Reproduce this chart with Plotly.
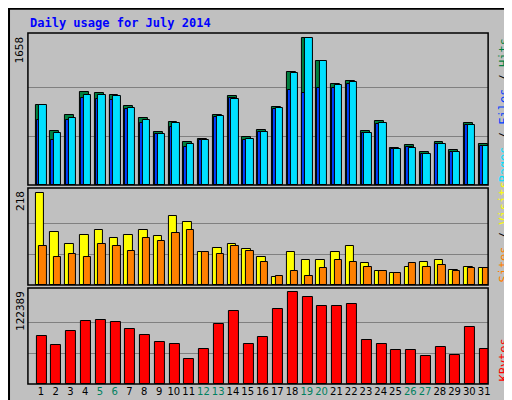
import plotly.graph_objects as go

days = list(range(1, 32))
hits = [902,607,788,1050,1038,1016,890,754,595,709,482,516,788,1004,538,618,879,1277,1658,1402,1140,1175,607,720,413,448,368,482,391,698,459]
files = [902,584,754,1016,1016,1004,868,732,573,698,459,504,777,970,516,595,868,1266,1658,1402,1129,1163,584,698,402,413,345,459,368,675,436]
pages = [732,504,732,985,973,959,860,698,573,655,425,504,766,985,504,595,856,1076,1038,1095,1095,1140,584,686,402,425,345,459,368,675,436]
visits = [218,126,98,117,131,112,117,131,115,162,150,77,88,98,86,65,20,77,58,58,79,91,51,32,29,43,55,60,36,43,41]
sites = [93,65,74,65,98,91,81,110,105,124,129,79,74,91,81,55,22,34,22,39,60,55,43,34,29,51,43,48,34,39,41]
kbytes = [64500,52400,71200,84700,86000,83300,73900,65900,56400,53800,33600,47000,80600,98100,53800,63200,99500,122389,115600,103500,103500,106200,59100,53800,45700,45700,37600,49700,39000,76600,47000]
weekends = [5,6,12,13,19,20,26,27]
max_hits, max_visits, max_kb = 1658, 218, 122389

fig = go.Figure()
line = dict(color="black", width=1)
def bar(y, color, off, w, ya):
    fig.add_trace(go.Bar(x=days, y=y, marker=dict(color=color, line=line), offset=off, width=w,
                         xaxis="x", yaxis=ya, showlegend=False, hoverinfo="skip"))
bar(hits, "#008040", -0.36, 0.6, "y")
bar(pages, "#0040FF", -0.3, 0.5, "y")
bar(files, "#00E0FF", -0.11, 0.5, "y")
bar(visits, "#FFFF00", -0.36, 0.58, "y2")
bar(sites, "#FF8000", -0.11, 0.5, "y2")
bar(kbytes, "#FF0000", -0.29, 0.68, "y3")

xd = [20/512, 482/512]
ticktext = [f"<span style='color:#00805F'>{d}</span>" if d in weekends else str(d) for d in days]
def yax(dom, top, mx):
    return dict(domain=dom, range=[0, top], tickvals=[mx/3, 2*mx/3], showticklabels=False,
                showgrid=True, gridcolor="#808080", gridwidth=1, zeroline=False, anchor="x", fixedrange=True,
                ticks="")
fig.update_layout(
    width=512, height=400, margin=dict(l=0, r=0, t=0, b=0),
    paper_bgcolor="#C0C0C0", plot_bgcolor="#C0C0C0", barmode="overlay", bargap=0,
    font=dict(family="DejaVu Sans Mono", size=11, color="black"),
    xaxis=dict(domain=xd, range=[0.123, 31.27], tickvals=days, ticktext=ticktext, ticks="", tickangle=0,
               showgrid=False, zeroline=False, anchor="y3", tickfont=dict(size=10, family="DejaVu Sans"),
               fixedrange=True),
    yaxis=yax([1-177/400, 1-25/400], max_hits*151.7/146.7, max_hits),
    yaxis2=yax([1-277/400, 1-180/400], max_visits*96.7/92, max_visits),
    yaxis3=yax([1-376/400, 1-280/400], max_kb*95.3/91, max_kb),
)
shapes = [
    dict(type="rect", xref="paper", yref="paper", x0=0.002, x1=0.998, y0=0.002, y1=0.998, line=dict(color="black", width=2)),
    dict(type="line", xref="paper", yref="paper", x0=508/512, x1=508/512, y0=4/400, y1=396/400, line=dict(color="#808080", width=3)),
    dict(type="line", xref="paper", yref="paper", x0=4/512, x1=508/512, y0=4/400, y1=4/400, line=dict(color="#808080", width=3)),
]
for y0, y1 in [(25, 177), (180, 277), (280, 376)]:
    shapes.append(dict(type="rect", xref="paper", yref="paper", x0=xd[0], x1=xd[1], y0=1-y1/400, y1=1-y0/400,
                       line=dict(color="black", width=1.5)))
fig.update_layout(shapes=shapes)

ann = [dict(text="<b>Daily usage for July 2014</b>", x=20/512, y=1-15/400, xref="paper", yref="paper",
            xanchor="left", yanchor="middle", showarrow=False, font=dict(color="#0000FF", size=12))]
for lab, ytop in [(str(max_hits), 26), (str(max_visits), 181), (str(max_kb), 281)]:
    ann.append(dict(text=lab, x=12/512, y=1-ytop/400, xref="paper", yref="paper", textangle=-90,
                    xanchor="center", yanchor="top", showarrow=False, font=dict(size=11)))
right = [
    ("<span style='color:#00E0FF'>Pages</span> / <span style='color:#0040FF'>Files</span> / <span style='color:#008040'>Hits</span>", 177),
    ("<span style='color:#FF8000'>Sites</span> / <span style='color:#FFFF00'>Visits</span>", 277),
    ("<span style='color:#FF0000'>KBytes</span>", 376),
]
for t, yb in right:
    ann.append(dict(text=t, x=497/512, y=1-yb/400, xref="paper", yref="paper", textangle=-90,
                    xanchor="center", yanchor="bottom", showarrow=False, font=dict(size=12)))
fig.update_layout(annotations=ann)
fig.write_html("out.html")
